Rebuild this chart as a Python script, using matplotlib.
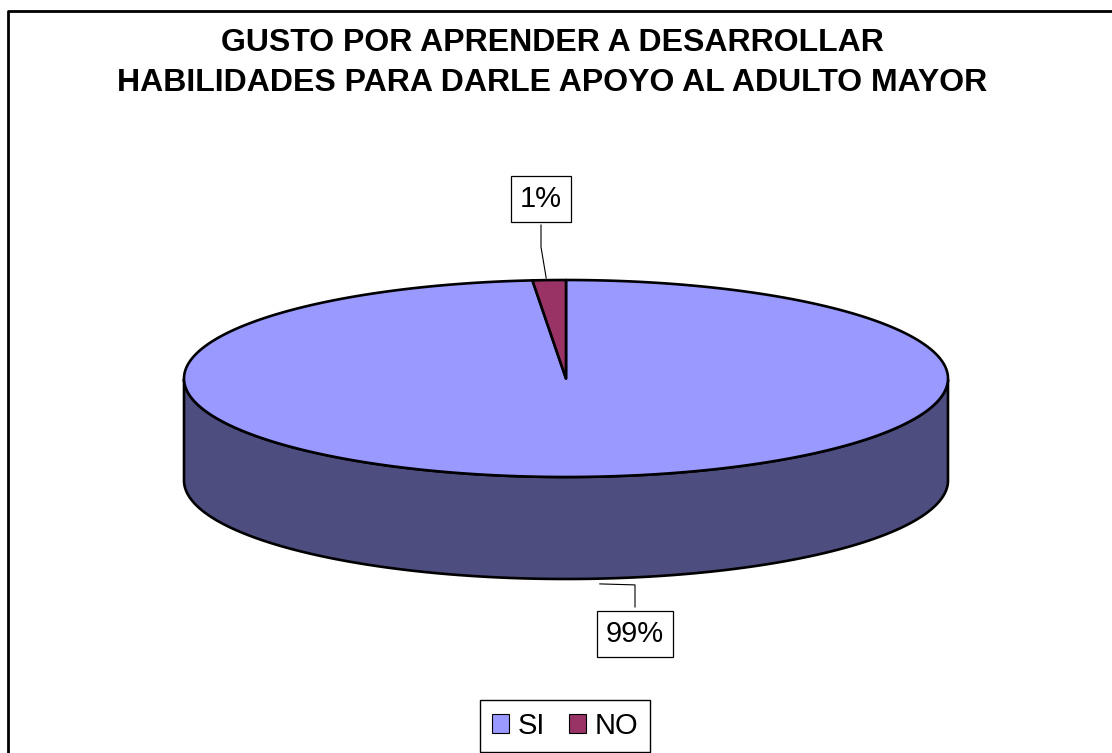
import numpy as np
import matplotlib
matplotlib.use('Agg')
import matplotlib.pyplot as plt
from matplotlib.patches import Polygon, Patch

plt.rcParams['font.family'] = ['Liberation Sans', 'DejaVu Sans']

# data
categories = ['SI', 'NO']
values = [98.6, 1.4]
colors_top = ['#9999FF', '#993366']
colors_side = ['#4D4D80', '#4D1A33']
title = 'GUSTO POR APRENDER A DESARROLLAR\nHABILIDADES PARA DARLE APOYO AL ADULTO MAYOR'

# layout (pixel space)
W, H = 1112, 753
CX, CY = 566, 378.5
RX, RY = 382, 98.5
DEPTH = 102

fig = plt.figure(figsize=(W / 100, H / 100), dpi=100)
ax = fig.add_axes([0, 0, 1, 1])
ax.set_xlim(0, W)
ax.set_ylim(H, 0)
ax.axis('off')

# chart frame (left and top edges visible)
ax.plot([8, 8, W + 5], [H + 5, 11, 11], color='black', lw=2, solid_capstyle='butt')

total = sum(values)
# Excel style: start at 12 o'clock, go clockwise
angles = []
start = 90.0
for v in values:
    span = v / total * 360.0
    angles.append((start, start - span))
    start -= span


def ell(t):
    r = np.radians(t)
    return CX + RX * np.cos(r), CY - RY * np.sin(r)


# side walls first
for (a0, a1), c in zip(angles, colors_side):
    t = np.linspace(a0, a1, 400)
    s = np.sin(np.radians(t))
    t = t[s <= 0]
    if len(t) < 2:
        continue
    x, y = ell(t)
    pts = np.column_stack([np.r_[x, x[::-1]], np.r_[y, y[::-1] + DEPTH]])
    ax.add_patch(Polygon(pts, closed=True, fc=c, ec='black', lw=1.9, joinstyle='round'))

# top faces
for (a0, a1), c in zip(angles, colors_top):
    t = np.linspace(a0, a1, 400)
    x, y = ell(t)
    pts = np.column_stack([np.r_[CX, x], np.r_[CY, y]])
    ax.add_patch(Polygon(pts, closed=True, fc=c, ec='black', lw=1.9, joinstyle='round'))

# data labels with leader lines
label_pos = [(635, 634), (541, 199)]
for (a0, a1), v, (lx, ly) in zip(angles, values, label_pos):
    mid = (a0 + a1) / 2
    ex, ey = ell(mid)
    if np.sin(np.radians(mid)) < 0:
        ey += DEPTH + 4
        ax.plot([ex + 17, lx, lx], [ey + 1, ey + 2, ly - 27], color='black', lw=0.8)
    else:
        ax.plot([ex - 3, lx, lx], [ey - 2, ly + 48, ly + 26], color='black', lw=0.8)
    ax.text(lx, ly, '%.0f%%' % v, fontsize=21, ha='center', va='center',
            bbox=dict(boxstyle='square,pad=0.3', fc='white', ec='black', lw=0.9))

fig.text(552 / W, 1 - 63 / H, title, fontsize=23, fontweight='bold',
         ha='center', va='center', linespacing=1.45)

handles = [Patch(facecolor=c, edgecolor='black', lw=0.8) for c in colors_top]
fig.legend(handles, categories, loc='center', bbox_to_anchor=(565 / W, 1 - 726 / H),
           ncol=2, fontsize=21, frameon=True, fancybox=False, edgecolor='black',
           handlelength=0.6, handleheight=0.6, handletextpad=0.3, columnspacing=0.8,
           borderpad=0.4, framealpha=1)

fig.savefig('out.png', dpi=100)
